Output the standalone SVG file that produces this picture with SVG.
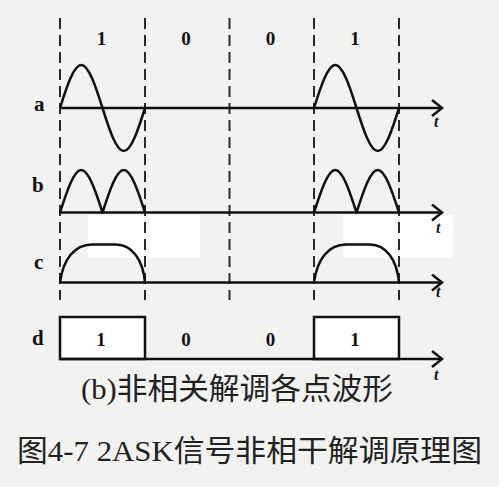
<svg xmlns="http://www.w3.org/2000/svg" width="499" height="487" viewBox="0 0 499 487">
<style>
.dash{stroke:#2a2a2a;stroke-width:2;stroke-dasharray:11 6;fill:none}
.axis{stroke:#111;stroke-width:2.5;fill:none}
.wave{stroke:#111;stroke-width:2.5;fill:none;stroke-linejoin:round}
.lbl{font-family:"Liberation Serif",serif;font-weight:bold;font-size:21px;fill:#111}
.bit{font-family:"Liberation Serif",serif;font-weight:bold;font-size:19px;fill:#111;text-anchor:middle}
.t{font-family:"Liberation Serif",serif;font-style:italic;font-weight:bold;font-size:16px;fill:#111}
.cap{font-family:"Liberation Serif","Noto Sans CJK SC",serif;font-size:30px;fill:#222}
</style>
<defs>
<marker id="arr" markerWidth="14" markerHeight="18" refX="12" refY="9" orient="auto" markerUnits="userSpaceOnUse">
<path d="M2,1 L12,9 L2,17" fill="none" stroke="#111" stroke-width="2.5"/>
</marker>
</defs>
<rect width="499" height="487" fill="#f2f2f0"/>
<rect x="88" y="215" width="112" height="43" fill="#ffffff"/>
<rect x="343" y="215" width="110" height="43" fill="#ffffff"/>
<g id="dividers">
<line class="dash" x1="60" y1="18" x2="60" y2="300"/>
<line class="dash" x1="145" y1="18" x2="145" y2="300"/>
<line class="dash" x1="229.5" y1="18" x2="229.5" y2="300"/>
<line class="dash" x1="314" y1="18" x2="314" y2="300"/>
<line class="dash" x1="399" y1="18" x2="399" y2="300"/>
</g>
<g id="bits">
<text class="bit" x="101.5" y="45">1</text>
<text class="bit" x="186" y="45">0</text>
<text class="bit" x="270.5" y="45">0</text>
<text class="bit" x="355" y="45">1</text>
</g>
<g id="row-a">
<text class="lbl" x="34" y="111">a</text>
<line class="axis" x1="60" y1="108" x2="442" y2="108" marker-end="url(#arr)"/>
<text class="t" x="434" y="127">t</text>
<path class="wave" d="M60,108 C66.92,86 73.85,65 81.25,65 C88.65,65 95.58,86 102.5,108 C109.42,130 116.35,151 123.75,151 C131.15,151 138.08,130 145,108"/>
<path class="wave" d="M314,108 C320.92,86 327.85,65 335.25,65 C342.65,65 349.58,86 356.5,108 C363.42,130 370.35,151 377.75,151 C385.15,151 392.08,130 399,108"/>
</g>
<g id="row-b">
<text class="lbl" x="32" y="192">b</text>
<line class="axis" x1="60" y1="212.5" x2="442" y2="212.5" marker-end="url(#arr)"/>
<text class="t" x="436" y="233">t</text>
<path class="wave" d="M60,212.5 C66.92,191 73.85,170 81.25,170 C88.65,170 95.58,191 102.5,212.5 C109.42,191 116.35,170 123.75,170 C131.15,170 138.08,191 145,212.5"/>
<path class="wave" d="M314,212.5 C320.92,191 327.85,170 335.25,170 C342.65,170 349.58,191 356.5,212.5 C363.42,191 370.35,170 377.75,170 C385.15,170 392.08,191 399,212.5"/>
</g>
<g id="row-c">
<text class="lbl" x="34" y="269">c</text>
<line class="axis" x1="60" y1="282.5" x2="442" y2="282.5" marker-end="url(#arr)"/>
<text class="t" x="436" y="297">t</text>
<path class="wave" d="M60,282.5 C63,260 74,244.5 92,244.5 L116,244.5 C132,244.5 143,260 145,282.5"/>
<path class="wave" d="M314,282.5 C317,260 328,244.5 346,244.5 L370,244.5 C386,244.5 397,260 399,282.5"/>
</g>
<g id="row-d">
<text class="lbl" x="32" y="345">d</text>
<rect x="60" y="317" width="85" height="42" fill="#ffffff" stroke="#111" stroke-width="2.5"/>
<rect x="314" y="317" width="85" height="42" fill="#ffffff" stroke="#111" stroke-width="2.5"/>
<line class="axis" x1="60" y1="359" x2="442" y2="359" marker-end="url(#arr)"/>
<text class="t" x="434" y="380">t</text>
<text class="bit" x="101" y="346">1</text>
<text class="bit" x="186" y="346">0</text>
<text class="bit" x="270.5" y="346">0</text>
<text class="bit" x="355" y="346">1</text>
</g>
<g id="captions">
<text class="cap" x="81" y="399" textLength="312" lengthAdjust="spacingAndGlyphs">(b)非相关解调各点波形</text>
<text class="cap" x="17" y="461" font-size="31" textLength="465" lengthAdjust="spacingAndGlyphs">图4-7 2ASK信号非相干解调原理图</text>
</g>
</svg>
